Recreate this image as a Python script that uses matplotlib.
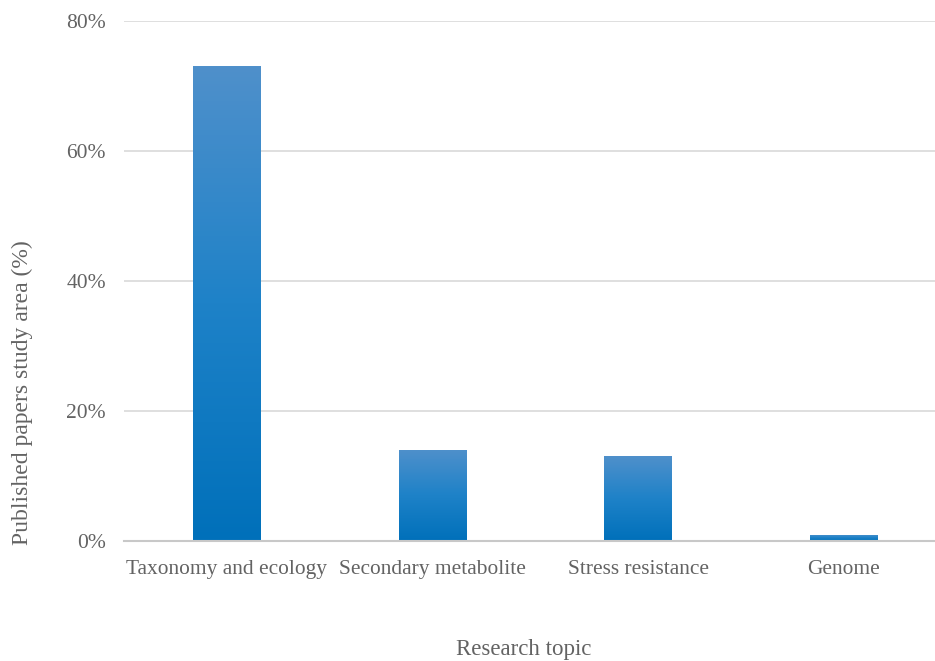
import matplotlib.pyplot as plt
import numpy as np
from matplotlib.colors import LinearSegmentedColormap
from matplotlib.ticker import FuncFormatter

# Dados
topicos = ['Taxonomy and ecology', 'Secondary metabolite', 'Stress resistance', 'Genome']
percentuais = [73, 14, 13, 1]

plt.rcParams['font.family'] = ['Liberation Serif', 'DejaVu Serif']
cinza = '#636363'

fig = plt.figure(figsize=(9.35, 6.61), dpi=100)
ax = fig.add_axes([0.1326, 0.1815, 0.880, 0.7874])

x = np.arange(len(topicos))
barras = ax.bar(x, percentuais, width=0.33, color='none', zorder=3)

# Gradiente vertical em cada barra (claro em cima, escuro embaixo)
grad = LinearSegmentedColormap.from_list('g', ['#0070ba', '#1e82c8', '#4f90cb'])
img = np.linspace(0, 1, 256).reshape(-1, 1)
for b in barras:
    x0, y0 = b.get_x(), b.get_y()
    w, h = b.get_width(), b.get_height()
    im = ax.imshow(img, cmap=grad, origin='lower', aspect='auto',
                   extent=[x0, x0 + w, y0, y0 + h], zorder=3)
    im.set_clip_path(b)

ax.set_xlim(-0.5, 3.5)
ax.set_ylim(0, 80)
ax.set_yticks([0, 20, 40, 60, 80])
ax.yaxis.set_major_formatter(FuncFormatter(lambda v, p: f'{v:.0f}%'))
ax.set_xticks(x)
ax.set_xticklabels(topicos)

ax.grid(axis='y', color='#d9d9d9', linewidth=1.2, zorder=0)
for s in ['top', 'right', 'left']:
    ax.spines[s].set_visible(False)
ax.spines['bottom'].set_color('#c8c8c8')
ax.spines['bottom'].set_linewidth(1.5)
ax.spines['bottom'].set_zorder(4)

ax.tick_params(axis='x', length=0, labelsize=15.4, labelcolor=cinza, pad=13.5)
ax.tick_params(axis='y', length=0, labelsize=15.5, labelcolor=cinza, pad=13)

ax.set_xlabel('Research topic', fontsize=16.5, color=cinza, va='center')
ax.xaxis.set_label_coords(0.486, -0.209)
ax.set_ylabel('Published papers study area (%)', fontsize=17, color=cinza, va='center')
ax.yaxis.set_label_coords(-0.124, 0.286)

fig.savefig('out.png', dpi=100)
